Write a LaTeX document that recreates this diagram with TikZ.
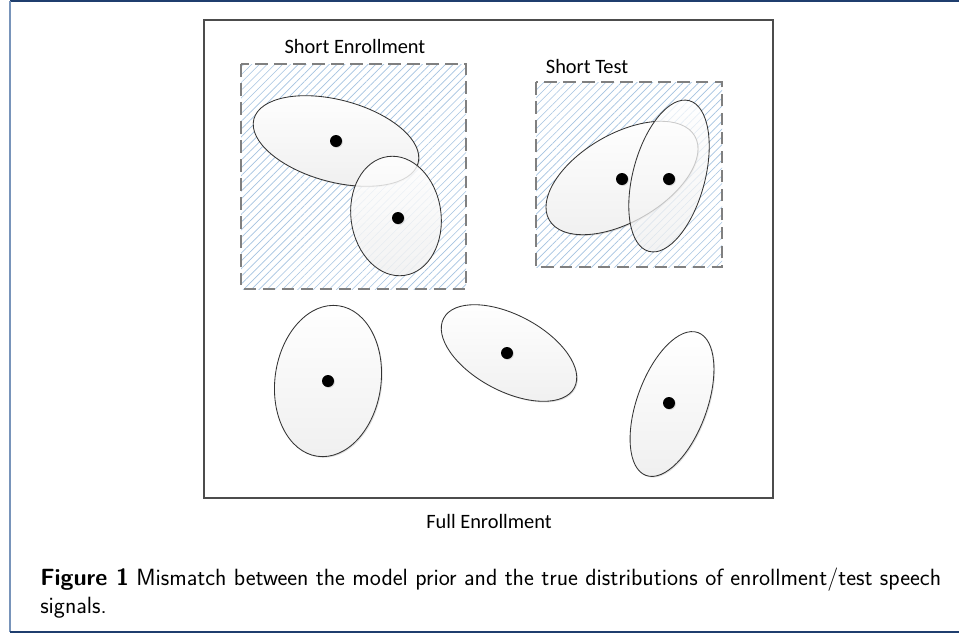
\documentclass[tikz,border=0pt]{standalone}
\usepackage{fontspec}
\setmainfont{Carlito}
\usetikzlibrary{patterns.meta}
\usetikzlibrary{shadows}
\definecolor{framebl}{RGB}{31,62,110}
\definecolor{framelt}{RGB}{120,148,186}
\definecolor{hatchbl}{RGB}{165,195,225}
\tikzset{
	blob/.style={draw=black!80,line width=0.6pt,shading angle=35,top color=white,bottom color=black!6,
		drop shadow={shadow xshift=0.8pt,shadow yshift=-0.8pt,opacity=0.25}},
	glass blob/.style={draw=black!80,line width=0.6pt,shading angle=35,top color=white,bottom color=black!6,fill opacity=#1},
	centre/.style={fill=black,drop shadow={shadow xshift=0.6pt,shadow yshift=-0.6pt,opacity=0.3}},
	subset/.style={draw=black!50,line width=1.3pt,dash pattern=on 9pt off 4.5pt,
		pattern={Lines[angle=45,distance=3.9pt,line width=0.45pt]},pattern color=hatchbl},
	lbl/.style={font=\fontsize{14.5}{17}\selectfont}
}

\begin{document}
\begin{tikzpicture}[x=0.025cm,y=0.025cm]
	\useasboundingbox (0,0) rectangle (959,-634);
	% outer frame
	\coordinate (ftl) at (10,-1);
	\coordinate (ftr) at (959,-1);
	\coordinate (fbl) at (10,-632);
	\coordinate (fbr) at (959,-632);
	\draw[framebl,line width=1.4pt] (ftr) -- (ftl);
	\draw[framelt,line width=1.2pt] (ftl) -- (fbl);
	\draw[framebl,line width=1.4pt] (fbl) -- (fbr);
	% full enrollment box
	\draw[black!70,line width=0.9pt,drop shadow={shadow xshift=0.8pt,shadow yshift=-0.8pt,opacity=0.2},fill=white]
		(204,-20) coordinate (fe nw) rectangle (773,-498) coordinate (fe se);
	\node[lbl] (full) at (489,-521) {Full Enrollment};
	% short enrollment
	\draw[subset] (241,-64) coordinate (se nw) rectangle (466,-289) coordinate (se se);
	\node[lbl] (se lbl) at (355,-46) {Short Enrollment};
	\coordinate (se1) at (336,-141);
	\coordinate (se2) at (396,-216);
	\draw[blob,rotate around={-15:(se1)}] (se1) ellipse [x radius=85,y radius=41];
	\draw[glass blob=0.82,rotate around={8:(se2)}] (se2) ellipse [x radius=45,y radius=60];
	% short test
	\draw[subset] (536,-82) coordinate (st nw) rectangle (722,-267) coordinate (st se);
	\node[lbl] (st lbl) at (587,-66) {Short Test};
	\coordinate (st1) at (622,-178);
	\coordinate (st2) at (669,-176);
	\draw[blob,rotate around={30:(st1)}] (st1) ellipse [x radius=84,y radius=44];
	\draw[glass blob=0.75,rotate around={-15:(st2)}] (st2) ellipse [x radius=36,y radius=78];
	% full enrollment clusters
	\coordinate (fe1) at (328,-381);
	\coordinate (fe2) at (509,-353);
	\coordinate (fe3) at (672,-404);
	\draw[blob,rotate around={-8:(fe1)}] (fe1) ellipse [x radius=53,y radius=76];
	\draw[blob,rotate around={-28:(fe2)}] (fe2) ellipse [x radius=74,y radius=38];
	\draw[blob,rotate around={-20:(fe3)}] (fe3) ellipse [x radius=35,y radius=76];
	% means
	\foreach \p/\q in {336/141,398/218,622/179,669/179,328/381,507/353,669/403}
		\fill[centre] (\p,-\q) circle [radius=6];
	% caption
	\node[anchor=north west,align=left,inner sep=0pt,font=\sffamily\fontsize{16.7}{19.5}\selectfont] (caption) at (40,-568)
		{\textbf{Figure 1}\ Mismatch between the model prior and the true distributions of enrollment/test speech\\signals.};
\end{tikzpicture}
\end{document}
